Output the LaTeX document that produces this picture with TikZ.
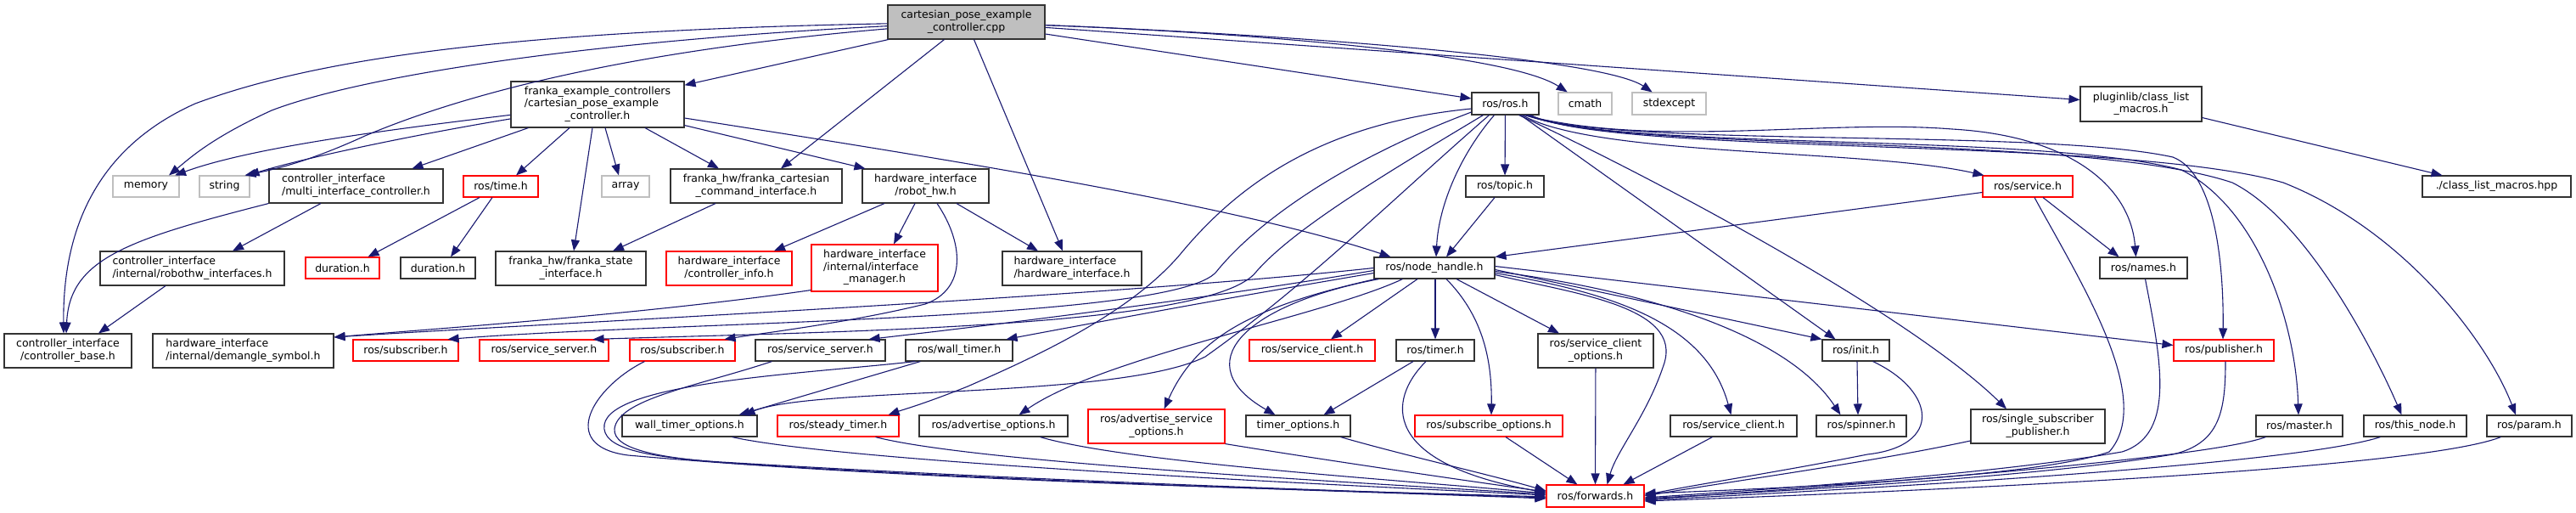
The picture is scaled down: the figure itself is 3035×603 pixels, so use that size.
\documentclass[tikz,border=0pt]{standalone}
\usepackage{fontspec}
\setmainfont{DejaVu Sans}
\usetikzlibrary{arrows.meta,calc}
\definecolor{edgec}{HTML}{191970}
\definecolor{grayb}{HTML}{BFBFBF}
\newcommand{\dxtwo}[2]{\begin{tabular}{@{}l@{}}#1\\\multicolumn{1}{@{}c@{}}{#2}\end{tabular}}
\newcommand{\dxthree}[3]{\begin{tabular}{@{}l@{}}#1\\#2\\\multicolumn{1}{@{}c@{}}{#3}\end{tabular}}
\begin{document}
\begin{tikzpicture}[x=1pt,y=-1pt,
  nb/.style={draw=black!80, line width=1.1pt, inner sep=0pt, font=\fontsize{12.5}{14.5}\selectfont, align=center},
  box/.style={nb},
  rbox/.style={nb, draw=red},
  gbox/.style={nb, draw=grayb},
  e/.style={draw=edgec, line width=1.1pt, -{Triangle[length=13pt,width=10pt]}}]
\useasboundingbox (0,0) rectangle (3035,603);
% nodes
\node[box,fill=grayb,minimum width=185pt,minimum height=40pt] (cpp) at (1138.5,26) {\dxtwo{cartesian\_pose\_example}{\_controller.cpp}};
\node[box,minimum width=204pt,minimum height=54pt] (fec) at (704,123) {\dxthree{franka\_example\_controllers}{/cartesian\_pose\_example}{\_controller.h}};
\node[box,minimum width=79pt,minimum height=26pt] (rosh) at (1773.5,122) {ros/ros.h};
\node[gbox,minimum width=63pt,minimum height=26pt] (cmath) at (1867.5,122) {cmath};
\node[gbox,minimum width=87pt,minimum height=26pt] (stdexcept) at (1966.5,122) {stdexcept};
\node[box,minimum width=143pt,minimum height=41pt] (plug) at (2522.5,122.5) {\dxtwo{pluginlib/class\_list}{\_macros.h}};
\node[gbox,minimum width=78pt,minimum height=25pt] (memory) at (172,219.5) {memory};
\node[gbox,minimum width=59pt,minimum height=25pt] (string) at (264.5,219.5) {string};
\node[box,minimum width=205pt,minimum height=40pt] (mic) at (419.5,219) {\dxtwo{controller\_interface}{/multi\_interface\_controller.h}};
\node[rbox,minimum width=88pt,minimum height=25pt] (time) at (590,219.5) {ros/time.h};
\node[gbox,minimum width=56pt,minimum height=25pt] (array) at (737,219.5) {array};
\node[box,minimum width=202pt,minimum height=40pt] (fcci) at (891,219) {\dxtwo{franka\_hw/franka\_cartesian}{\_command\_interface.h}};
\node[box,minimum width=149pt,minimum height=40pt] (robothw) at (1090.5,219) {\dxtwo{hardware\_interface}{/robot\_hw.h}};
\node[box,minimum width=92pt,minimum height=25pt] (topic) at (1773,219.5) {ros/topic.h};
\node[rbox,minimum width=106pt,minimum height=25pt] (service) at (2389,219.5) {ros/service.h};
\node[box,minimum width=175pt,minimum height=25pt] (clm) at (2941.5,219.5) {./class\_list\_macros.hpp};
\node[box,minimum width=217pt,minimum height=40pt] (rhwi) at (226.5,316) {\dxtwo{controller\_interface}{/internal/robothw\_interfaces.h}};
\node[rbox,minimum width=87pt,minimum height=25pt] (dur1) at (403.5,315.5) {duration.h};
\node[box,minimum width=88pt,minimum height=25pt] (dur2) at (516,315.5) {duration.h};
\node[box,minimum width=177pt,minimum height=40pt] (fsi) at (672.5,316) {\dxtwo{franka\_hw/franka\_state}{\_interface.h}};
\node[rbox,minimum width=148pt,minimum height=40pt] (cinfo) at (859,316) {\dxtwo{hardware\_interface}{/controller\_info.h}};
\node[rbox,minimum width=149pt,minimum height=55pt] (imgr) at (1030.5,315.5) {\dxthree{hardware\_interface}{/internal/interface}{\_manager.h}};
\node[box,minimum width=164pt,minimum height=40pt] (hwi) at (1263,316) {\dxtwo{hardware\_interface}{/hardware\_interface.h}};
\node[box,minimum width=142pt,minimum height=25pt] (nh) at (1690,315.5) {ros/node\_handle.h};
\node[box,minimum width=103pt,minimum height=25pt] (names) at (2525.5,315.5) {ros/names.h};
\node[box,minimum width=150pt,minimum height=40pt] (cbase) at (80,413) {\dxtwo{controller\_interface}{/controller\_base.h}};
\node[box,minimum width=213pt,minimum height=40pt] (demangle) at (286.5,413) {\dxtwo{hardware\_interface}{/internal/demangle\_symbol.h}};
\node[rbox,minimum width=124pt,minimum height=25pt] (sub1) at (478,412.5) {ros/subscriber.h};
\node[rbox,minimum width=152pt,minimum height=25pt] (ssrv1) at (641,412.5) {ros/service\_server.h};
\node[rbox,minimum width=124pt,minimum height=25pt] (sub2) at (804,412.5) {ros/subscriber.h};
\node[box,minimum width=153pt,minimum height=25pt] (ssrv2) at (966.5,412.5) {ros/service\_server.h};
\node[box,minimum width=126pt,minimum height=25pt] (wtimer) at (1130,412.5) {ros/wall\_timer.h};
\node[rbox,minimum width=148pt,minimum height=25pt] (sclient1) at (1546,412.5) {ros/service\_client.h};
\node[box,minimum width=92pt,minimum height=25pt] (timer) at (1691,412.5) {ros/timer.h};
\node[box,minimum width=136pt,minimum height=40pt] (scopts) at (1880,413) {\dxtwo{ros/service\_client}{\_options.h}};
\node[box,minimum width=79pt,minimum height=25pt] (init) at (2186.5,412.5) {ros/init.h};
\node[rbox,minimum width=118pt,minimum height=25pt] (pub) at (2620,412.5) {ros/publisher.h};
\node[box,minimum width=159pt,minimum height=25pt] (wto) at (812.5,501.5) {wall\_timer\_options.h};
\node[rbox,minimum width=143pt,minimum height=25pt] (steady) at (987.5,501.5) {ros/steady\_timer.h};
\node[box,minimum width=175pt,minimum height=25pt] (advopts) at (1170.5,501.5) {ros/advertise\_options.h};
\node[rbox,minimum width=161pt,minimum height=40pt] (advsrv) at (1362.5,502) {\dxtwo{ros/advertise\_service}{\_options.h}};
\node[box,minimum width=123pt,minimum height=25pt] (topts) at (1529.5,501.5) {timer\_options.h};
\node[rbox,minimum width=174pt,minimum height=25pt] (subopts) at (1754,501.5) {ros/subscribe\_options.h};
\node[box,minimum width=149pt,minimum height=25pt] (sclient2) at (2042.5,501.5) {ros/service\_client.h};
\node[box,minimum width=106pt,minimum height=25pt] (spinner) at (2193,501.5) {ros/spinner.h};
\node[box,minimum width=158pt,minimum height=40pt] (ssp) at (2401,502) {\dxtwo{ros/single\_subscriber}{\_publisher.h}};
\node[box,minimum width=102pt,minimum height=25pt] (master) at (2709,501.5) {ros/master.h};
\node[box,minimum width=121pt,minimum height=25pt] (thisnode) at (2845.5,501.5) {ros/this\_node.h};
\node[box,minimum width=100pt,minimum height=25pt] (param) at (2980,501.5) {ros/param.h};
\node[rbox,minimum width=115pt,minimum height=26pt] (fwd) at (1879.5,584) {ros/forwards.h};
% edges from cpp
\draw[e] (cpp) .. controls (620,36) and (380,66) .. (230,122) .. controls (100,180) and (74,290) .. ($(cbase.north)+(-5,0)$);
\draw[e] (cpp) .. controls (700,48) and (430,88) .. (320,130) .. controls (250,162) and (225,185) .. ($(memory.north)+(27,0)$);
\draw[e] (cpp) .. controls (760,58) and (560,105) .. (430,160) .. controls (360,192) and (320,200) .. ($(string.north)+(24,0)$);
\draw[e] (cpp) -- (fec);
\draw[e] ($(cpp.south)+(-26,0)$) -- ($(fcci.north)+(29,0)$);
\draw[e] ($(cpp.south)+(9,0)$) -- ($(hwi.north)+(-11,0)$);
\draw[e] ($(cpp.east)+(0,14)$) -- ($(rosh.west)+(0,-6)$);
\draw[e] (cpp) .. controls (1500,40) and (1780,65) .. (cmath);
\draw[e] (cpp) .. controls (1550,42) and (1890,70) .. (stdexcept);
\draw[e] (cpp) -- (plug);
% fec
\draw[e] (fec) .. controls (480,150) and (300,172) .. ($(memory.north)+(34,0)$);
\draw[e] (fec) .. controls (480,160) and (350,188) .. ($(string.north)+(28,0)$);
\draw[e] ($(fec.south west)+(21,0)$) -- ($(mic.north)+(66,0)$);
\draw[e] ($(fec.south)+(-33,0)$) -- ($(time.north)+(18,0)$);
\draw[e] ($(fec.south)+(9,0)$) -- ($(array.north)+(-8,0)$);
\draw[e] ($(fec.south)+(-6,0)$) -- ($(fsi.north)+(3.5,0)$);
\draw[e] ($(fec.south)+(56,0)$) -- ($(fcci.north)+(-44,0)$);
\draw[e] ($(fec.south east)+(0,-3)$) -- ($(robothw.north west)+(4,0)$);
\draw[e] ($(fec.east)+(0,16)$) .. controls (1100,185) and (1450,240) .. ($(nh.north west)+(20,0)$);
% mic, rhwi, time, fcci
\draw[e] ($(mic.south)+(-41.5,0)$) -- ($(rhwi.north)+(47.5,0)$);
\draw[e] (mic.south west) .. controls (150,282) and (82,305) .. ($(cbase.north)+(-2,0)$);
\draw[e] ($(rhwi.south)+(-31.5,0)$) -- ($(cbase.north)+(36,0)$);
\draw[e] ($(time.south)+(-25,0)$) -- ($(dur1.north)+(30,0)$);
\draw[e] ($(time.south)+(-10,0)$) -- ($(dur2.north)+(15,0)$);
\draw[e] ($(fcci.south)+(-48,0)$) -- ($(fsi.north)+(49.5,0)$);
% robothw
\draw[e] ($(robothw.south)+(-48.5,0)$) -- ($(cinfo.north)+(53,0)$);
\draw[e] ($(robothw.south)+(-12.5,0)$) -- ($(imgr.north)+(22.5,0)$);
\draw[e] ($(robothw.south)+(36.5,0)$) -- ($(hwi.north)+(-40,0)$);
\draw[e] ($(robothw.south)+(13.5,0)$) .. controls (1135,285) and (1140,340) .. (1090,358) .. controls (1000,380) and (900,392) .. ($(sub2.north east)+(-13,0)$);
\draw[e] ($(imgr.south west)+(0,-2)$) .. controls (760,370) and (500,388) .. ($(demangle.east)+(0,-16)$);
\draw[e] ($(plug.east)+(0,16)$) -- ($(clm.north west)+(24,0)$);
% rosh
\draw[e] (rosh) -- (topic);
\draw[e] ($(rosh.south)+(-13,0)$) .. controls (1722,180) and (1695,240) .. ($(nh.north)+(2,0)$);
\draw[e] ($(topic.south)+(-12,0)$) -- ($(nh.north)+(14,0)$);
\draw[e] ($(rosh.south east)+(-20,0)$) .. controls (1880,185) and (2200,175) .. ($(service.north west)+(2,0)$);
\draw[e] ($(rosh.south east)+(-18,0)$) .. controls (1950,175) and (2150,140) .. (2300,152) .. controls (2440,160) and (2510,220) .. ($(names.north)+(-9,0)$);
\draw[e] ($(rosh.south east)+(-16,0)$) .. controls (1900,175) and (2400,150) .. (2560,185) .. controls (2612,205) and (2620,320) .. ($(pub.north)+(-1,0)$);
\draw[e] ($(rosh.south east)+(-14,0)$) .. controls (1900,178) and (2400,155) .. (2570,200) .. controls (2660,245) and (2705,380) .. ($(master.north)+(-1,0)$);
\draw[e] ($(rosh.south east)+(-12,0)$) .. controls (1900,181) and (2450,155) .. (2630,215) .. controls (2720,260) and (2800,420) .. ($(thisnode.north)+(-16,0)$);
\draw[e] ($(rosh.south east)+(-10,0)$) .. controls (1900,184) and (2500,160) .. (2690,215) .. controls (2830,270) and (2930,400) .. ($(param.north)+(-16,0)$);
\draw[e] ($(rosh.south east)+(-22,0)$) -- ($(init.north west)+(16,0)$);
\draw[e] ($(rosh.south east)+(-24,0)$) .. controls (1950,210) and (2250,370) .. ($(ssp.north)+(-37,0)$);
\draw[e] ($(rosh.west)+(0,6)$) .. controls (1560,145) and (1460,215) .. (1390,300) .. controls (1330,370) and (1220,420) .. (1140,455) .. controls (1090,475) and (1065,482) .. ($(steady.north east)+(-13,0)$);
\draw[e] ($(rosh.west)+(0,10)$) .. controls (1580,190) and (1480,262) .. (1433,320) .. controls (1385,378) and (800,378) .. ($(sub1.north east)+(-13,0)$);
\draw[e] ($(rosh.south west)+(14,0)$) .. controls (1640,200) and (1525,268) .. (1480,320) .. controls (1430,385) and (1000,390) .. ($(ssrv1.north east)+(-19,0)$);
\draw[e] ($(rosh.south west)+(21,0)$) .. controls (1640,235) and (1540,335) .. (1420,420) .. controls (1320,470) and (960,455) .. ($(wto.north east)+(-16,0)$);
% service
\draw[e] ($(service.west)+(0,7)$) -- (nh.north east);
\draw[e] ($(service.south)+(18,0)$) -- ($(names.north)+(-29,0)$);
\draw[e] ($(service.south)+(8,0)$) .. controls (2450,330) and (2540,470) .. (2485,532) .. controls (2400,562) and (2100,575) .. ($(fwd.east)+(0,-3)$);
% nh left
\draw[e] (nh.west) .. controls (1300,350) and (620,382) .. ($(demangle.east)+(0,-16)$);
\draw[e] ($(nh.west)+(0,3)$) .. controls (1400,355) and (1150,385) .. ($(ssrv2.north east)+(-20,0)$);
\draw[e] ($(nh.west)+(0,6)$) .. controls (1450,350) and (1300,378) .. ($(wtimer.north east)+(-8,0)$);
\draw[e] ($(nh.south west)+(34,0)$) .. controls (1560,372) and (1300,420) .. ($(advopts.north)+(30,0)$);
\draw[e] ($(nh.south west)+(2,0)$) .. controls (1480,360) and (1410,395) .. (advsrv);
\draw[e] ($(nh.south west)+(6,0)$) .. controls (1460,360) and (1400,430) .. ($(topts.north)+(-27,0)$);
% nh down/right
\draw[e] ($(nh.south)+(-20,0)$) -- ($(sclient1.north)+(22,0)$);
\draw[e] ($(nh.south)+(1,0)$) -- (timer.north);
\draw[e] ($(nh.south)+(14,0)$) .. controls (1745,370) and (1758,420) .. ($(subopts.north)+(3,0)$);
\draw[e] ($(nh.south)+(26,0)$) -- ($(scopts.north)+(-43,0)$);
\draw[e] ($(nh.east)+(0,8)$) .. controls (1850,345) and (1985,360) .. (1960,430) .. controls (1940,490) and (1905,530) .. ($(fwd.north)+(14,0)$);
\draw[e] ($(nh.east)+(0,6)$) .. controls (1900,345) and (2010,380) .. ($(sclient2.north)+(-3,0)$);
\draw[e] ($(nh.east)+(0,4)$) .. controls (1960,345) and (2110,400) .. ($(spinner.north west)+(29,0)$);
\draw[e] ($(nh.east)+(0,2)$) -- (init.north west);
\draw[e] ($(nh.east)+(0,-2)$) -- ($(pub.west)+(0,-6)$);
% init, timer, wall timer
\draw[e] ($(init.south)+(1.5,0)$) -- ($(spinner.north)+(-4,0)$);
\draw[e] ($(init.south east)+(-20,0)$) .. controls (2280,460) and (2290,525) .. (2200,535) .. controls (2100,555) and (2000,570) .. ($(fwd.east)+(0,-1)$);
\draw[e] ($(timer.south)+(-26,0)$) -- ($(topts.north)+(30,0)$);
\draw[e] ($(timer.south)+(-11,0)$) .. controls (1635,470) and (1625,545) .. ($(fwd.west)+(0,-4)$);
\draw[e] ($(wtimer.south west)+(18,0)$) -- ($(wto.north east)+(-22,0)$);
% into forwards
\draw[e] ($(subopts.south)+(20,0)$) -- ($(fwd.north west)+(37,0)$);
\draw[e] (scopts) -- (fwd);
\draw[e] ($(sclient2.south)+(-25,0)$) -- ($(fwd.north east)+(-25,0)$);
\draw[e] ($(ssp.west)+(0,17)$) .. controls (2200,545) and (2050,565) .. ($(fwd.east)+(0,0)$);
\draw[e] ($(names.south)+(2,0)$) .. controls (2545,420) and (2565,512) .. (2500,532) .. controls (2350,558) and (2100,575) .. ($(fwd.east)+(0,2)$);
\draw[e] ($(pub.south)+(2,0)$) .. controls (2622,485) and (2615,522) .. (2560,535) .. controls (2400,562) and (2100,578) .. ($(fwd.east)+(0,3)$);
\draw[e] ($(master.south west)+(12,0)$) .. controls (2600,540) and (2200,570) .. ($(fwd.east)+(0,4)$);
\draw[e] ($(thisnode.south west)+(20,0)$) .. controls (2700,548) and (2200,575) .. ($(fwd.east)+(0,5)$);
\draw[e] ($(param.south west)+(17,0)$) .. controls (2850,552) and (2300,577) .. ($(fwd.east)+(0,6)$);
\draw[e] ($(topts.south)+(50,0)$) .. controls (1650,535) and (1760,560) .. ($(fwd.west)+(0,-6)$);
\draw[e] (advsrv.south east) .. controls (1550,540) and (1720,565) .. ($(fwd.west)+(0,-5)$);
\draw[e] ($(advopts.south)+(55,0)$) .. controls (1330,545) and (1650,565) .. ($(fwd.west)+(0,-3)$);
\draw[e] ($(steady.south)+(44,0)$) .. controls (1150,545) and (1600,568) .. ($(fwd.west)+(0,-2)$);
\draw[e] ($(wto.south)+(50,0)$) .. controls (1000,545) and (1600,572) .. ($(fwd.west)+(0,-1)$);
\draw[e] ($(sub2.south west)+(18,0)$) .. controls (700,455) and (655,525) .. (740,536) .. controls (1100,568) and (1600,578) .. ($(fwd.west)+(0,1)$);
\draw[e] ($(wtimer.south west)+(12,0)$) .. controls (950,440) and (720,450) .. (712,500) .. controls (708,528) and (760,538) .. (850,544) .. controls (1250,568) and (1650,580) .. ($(fwd.west)+(0,2)$);
\draw[e] ($(ssrv2.south west)+(20,0)$) .. controls (820,455) and (728,470) .. (724,505) .. controls (722,530) and (780,540) .. (870,546) .. controls (1250,570) and (1650,580) .. ($(fwd.west)+(0,3)$);
\end{tikzpicture}
\end{document}
